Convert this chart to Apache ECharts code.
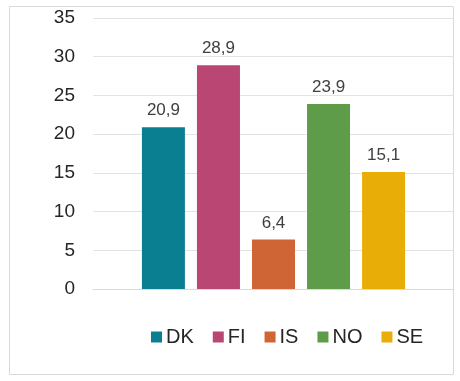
<!DOCTYPE html>
<html><head><meta charset="utf-8">
<script src="https://cdn.jsdelivr.net/npm/echarts@6/dist/echarts.min.js"></script>
<style>html,body{margin:0;padding:0;background:#fff;}#c{width:460px;height:381px;}</style>
</head><body><div id="c"></div>
<script>
const seriesNames = ['DK', 'FI', 'IS', 'NO', 'SE'];
const seriesValues = [20.9, 28.9, 6.4, 23.9, 15.1];
const colors = ['#0b7f92', '#b94673', '#cf6434', '#5f9c4a', '#e8ad07'];
const yTicks = [0, 5, 10, 15, 20, 25, 30, 35];

const chart = echarts.init(document.getElementById('c'));
const font = '"Liberation Sans", Arial, sans-serif';
chart.setOption({
  animation: false,
  color: colors,
  graphic: [{type: 'rect', shape: {x: 9.5, y: 6.5, width: 444, height: 368}, style: {fill: 'none', stroke: '#d9d9d9', lineWidth: 1}, silent: true}],
  grid: {left: 93, right: 6, top: 18, height: 271},
  xAxis: {type: 'category', data: [''], axisTick: {show: false}, axisLabel: {show: false}, axisLine: {lineStyle: {color: '#d9d9d9'}}},
  yAxis: {type: 'value', min: yTicks[0], max: yTicks[yTicks.length-1], interval: 5,
    axisLine: {show: false}, axisTick: {show: false},
    axisLabel: {margin: 18, fontSize: 19, color: '#262626', fontFamily: font},
    splitLine: {lineStyle: {color: '#e3e3e3'}}},
  legend: {left: 151, top: 327, padding: 0, itemWidth: 11, itemHeight: 11, itemGap: 19, icon: 'rect',
    textStyle: {fontSize: 20, color: '#262626', fontFamily: font, padding: [0,0,0,-1]},
    data: seriesNames},
  series: seriesNames.map((n, i) => ({
    name: n, type: 'bar', data: [seriesValues[i]], barWidth: 43, barGap: '28%',
    label: {show: true, position: 'top', distance: 8, fontSize: 17, color: '#404040', fontFamily: font,
      formatter: p => String(p.value.toFixed(1)).replace('.', ',')}
  }))
});
</script></body></html>
